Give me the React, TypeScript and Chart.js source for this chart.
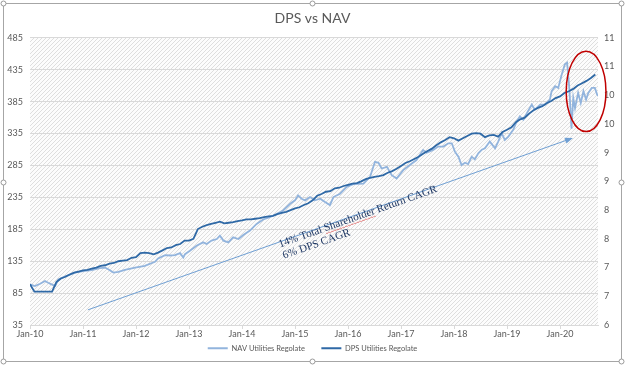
import React, { useEffect, useRef } from 'react';
import { Chart, registerables } from 'chart.js';

Chart.register(...registerables);

// X axis: months since Jan-2010
const tickMonths = [0, 12, 24, 36, 48, 60, 72, 84, 96, 108, 120];
const tickLabels = ['Jan-10', 'Jan-11', 'Jan-12', 'Jan-13', 'Jan-14', 'Jan-15', 'Jan-16', 'Jan-17', 'Jan-18', 'Jan-19', 'Jan-20'];

// DPS Utilities Regolate (right axis), monthly from Jan-10
const dpsValues = [
  6.71, 6.58, 6.58, 6.58, 6.58, 6.58, 6.75, 6.81, 6.84, 6.88, 6.91, 6.93,
  6.95, 6.96, 6.98, 7.00, 7.03, 7.04, 7.07, 7.08, 7.11, 7.12, 7.13, 7.17,
  7.18, 7.25, 7.26, 7.25, 7.23, 7.26, 7.30, 7.34, 7.35, 7.39, 7.41, 7.47,
  7.47, 7.50, 7.67, 7.71, 7.74, 7.76, 7.78, 7.80, 7.77, 7.78, 7.79, 7.81,
  7.82, 7.84, 7.84, 7.85, 7.86, 7.88, 7.89, 7.90, 7.93, 7.95, 7.97, 8.00,
  8.03, 8.05, 8.09, 8.12, 8.17, 8.25, 8.28, 8.32, 8.33, 8.38, 8.39, 8.42,
  8.44, 8.46, 8.47, 8.50, 8.54, 8.56, 8.58, 8.59, 8.61, 8.65, 8.68, 8.72,
  8.77, 8.82, 8.85, 8.89, 8.93, 8.98, 9.03, 9.07, 9.13, 9.18, 9.22, 9.27,
  9.25, 9.21, 9.25, 9.29, 9.33, 9.34, 9.33, 9.27, 9.30, 9.31, 9.28, 9.36,
  9.40, 9.44, 9.53, 9.58, 9.61, 9.68, 9.74, 9.78, 9.81, 9.86, 9.90, 9.95,
  9.98, 10.04, 10.07, 10.11, 10.17, 10.21, 10.25, 10.30, 10.36,
];

// NAV Utilities Regolate (left axis), observation month + value
const navMonths = [
  0, 1.1, 2.3, 3.4, 4.1, 4.9, 5.7, 6.4, 7.9, 10.2,
  12.0, 14.0, 15.8, 17.0, 17.7, 18.9, 20.0, 21.5, 23.8, 26.0,
  28.3, 29.0, 30.6, 31.7, 32.8, 34.0, 34.7, 35.1, 36.2, 37.7,
  39.2, 40.0, 41.1, 42.3, 43.0, 43.8, 44.9, 46.0, 47.2, 48.3,
  49.8, 51.3, 52.8, 54.3, 55.9, 57.3, 58.9, 60.0, 60.7, 61.5,
  62.3, 63.4, 64.5, 65.7, 66.8, 67.9, 68.7, 70.2, 71.7, 73.2,
  75.5, 77.0, 78.1, 78.9, 79.6, 80.8, 81.9, 83.0, 84.5, 86.0,
  87.5, 89.0, 89.8, 91.3, 92.4, 93.6, 94.7, 95.5, 96.2, 97.0,
  97.7, 98.5, 99.2, 100.0, 100.7, 101.5, 102.3, 103.0, 104.1, 105.3,
  106.0, 106.8, 107.5, 108.3, 109.4, 110.2, 110.9, 111.7, 112.5, 113.6,
  114.3, 115.5, 116.6, 117.7, 118.1, 118.9, 119.6, 120.4, 121.1, 121.6,
  122.1, 122.6, 123.0, 123.4, 124.1, 124.7, 125.3, 125.9, 126.4, 127.2,
  127.9, 128.4, 128.8,
];
const navValues = [
  98.6, 96.1, 99.7, 104.0, 101.3, 98.6, 96.1, 106.5, 110.8, 117.1,
  119.5, 121.1, 124.2, 125.0, 122.3, 117.1, 118.2, 121.4, 125.0, 127.7,
  134.0, 139.2, 144.4, 143.9, 144.4, 147.6, 140.8, 146.0, 151.4, 159.3,
  164.5, 161.8, 167.2, 169.7, 175.0, 167.2, 164.5, 172.4, 169.7, 176.0,
  182.9, 193.4, 200.3, 203.9, 209.2, 214.5, 224.9, 230.3, 238.2, 232.8,
  230.3, 235.5, 230.3, 232.8, 227.6, 222.9, 235.5, 240.7, 251.3, 255.6,
  256.5, 267.1, 290.8, 289.2, 280.2, 282.9, 269.8, 264.4, 277.7, 285.6,
  293.5, 309.3, 305.0, 309.3, 314.5, 314.5, 319.7, 319.7, 306.6, 298.7,
  285.6, 289.2, 287.2, 298.7, 294.4, 303.9, 309.7, 311.8, 322.4, 311.8,
  322.4, 335.5, 325.0, 330.3, 340.8, 353.9, 361.8, 356.6, 367.0, 380.3,
  372.4, 380.3, 380.3, 388.2, 401.3, 409.2, 406.5, 427.7, 443.5, 446.0,
  406.5, 342.4, 390.7, 374.9, 398.6, 382.8, 401.3, 388.2, 398.6, 406.5,
  406.5, 396.1, 393.4,
];

const leftAxis = { min: 35, max: 485, step: 50 };
const rightAxis = { min: 6, max: 11, step: 0.5 };
const xMax = 128.6;

// Annotations (data coordinates: month, left-axis value)
const arrowFrom = [13.1, 58.7];
const arrowTo = [122.5, 327];
const noteAnchor = [56.6, 156.6];
const noteLines = ['14% Total Shareholder Return CAGR', '6% DPS CAGR'];
const ellipseCenter = [125.9, 401];
const ellipseRadius = [4.5, 63];

const NAV_COLOR = '#92b4dd';
const DPS_COLOR = '#2f69a6';
const TEXT_COLOR = '#595959';
const FONT = 'Lato';

export default function App() {
  const ref = useRef<HTMLCanvasElement>(null);

  useEffect(() => {
    document.body.style.margin = '0';
    const canvas = ref.current!;

    const pc = document.createElement('canvas');
    pc.width = 4;
    pc.height = 4;
    const g = pc.getContext('2d')!;
    g.fillStyle = '#fcfcfc';
    g.fillRect(0, 0, 4, 4);
    g.strokeStyle = '#dedede';
    g.lineWidth = 1;
    g.beginPath();
    g.moveTo(0, 4);
    g.lineTo(4, 0);
    g.stroke();
    const pattern = canvas.getContext('2d')!.createPattern(pc, 'repeat')!;

    const bgPlugin = {
      id: 'bg',
      beforeDraw(chart: any) {
        const { ctx, chartArea: a } = chart;
        ctx.save();
        ctx.fillStyle = '#ffffff';
        ctx.fillRect(0, 0, chart.width, chart.height);
        ctx.fillStyle = pattern;
        ctx.fillRect(a.left, a.top, a.right - a.left, a.bottom - a.top);
        ctx.restore();
      },
    };

    const notePlugin = {
      id: 'notes',
      afterDraw(chart: any) {
        const { ctx } = chart;
        const x = chart.scales.x;
        const y = chart.scales.y;
        const px = (p: number[]) => [x.getPixelForValue(p[0]), y.getPixelForValue(p[1])];
        ctx.save();
        // arrow
        const [x0, y0] = px(arrowFrom);
        const [x1, y1] = px(arrowTo);
        const ang = Math.atan2(y1 - y0, x1 - x0);
        ctx.strokeStyle = '#6f9fd3';
        ctx.fillStyle = '#6f9fd3';
        ctx.lineWidth = 1;
        ctx.beginPath();
        ctx.moveTo(x0, y0);
        ctx.lineTo(x1, y1);
        ctx.stroke();
        ctx.beginPath();
        ctx.moveTo(x1 + 2 * Math.cos(ang), y1 + 2 * Math.sin(ang));
        ctx.lineTo(x1 - 6 * Math.cos(ang) - 3 * Math.sin(ang), y1 - 6 * Math.sin(ang) + 3 * Math.cos(ang));
        ctx.lineTo(x1 - 6 * Math.cos(ang) + 3 * Math.sin(ang), y1 - 6 * Math.sin(ang) - 3 * Math.cos(ang));
        ctx.closePath();
        ctx.fill();
        // text
        const [tx, ty] = px(noteAnchor);
        ctx.translate(tx, ty);
        ctx.rotate(ang);
        ctx.font = '11px "Liberation Serif"';
        ctx.fillStyle = '#1f3864';
        ctx.textBaseline = 'alphabetic';
        ctx.textAlign = 'left';
        ctx.fillText(noteLines[0], 0, 0);
        ctx.fillText(noteLines[1], 0, 12);
        // spell-check squiggle under "Shareholder"
        const sx = ctx.measureText('14% Total ').width;
        const sw = ctx.measureText('Shareholder').width;
        ctx.strokeStyle = 'rgba(220,50,50,0.8)';
        ctx.lineWidth = 0.6;
        ctx.beginPath();
        for (let i = 0; i <= sw; i += 1.5) {
          const yy = 2 + (Math.round(i / 1.5) % 2 === 0 ? 0 : 0.8);
          if (i === 0) ctx.moveTo(sx + i, yy);
          else ctx.lineTo(sx + i, yy);
        }
        ctx.stroke();
        ctx.setTransform(1, 0, 0, 1, 0, 0);
        // red ellipse
        const [ecx, ecy] = px(ellipseCenter);
        const erx = Math.abs(x.getPixelForValue(ellipseCenter[0] + ellipseRadius[0]) - ecx);
        const ery = Math.abs(y.getPixelForValue(ellipseCenter[1] + ellipseRadius[1]) - ecy);
        ctx.strokeStyle = '#c00000';
        ctx.lineWidth = 1.5;
        ctx.beginPath();
        ctx.ellipse(ecx, ecy, erx, ery, 0, 0, Math.PI * 2);
        ctx.stroke();
        // chart frame with handles
        ctx.strokeStyle = '#a6a6a6';
        ctx.lineWidth = 1;
        ctx.strokeRect(3.5, 3.5, chart.width - 7, chart.height - 7);
        const W = chart.width - 7;
        const H = chart.height - 7;
        const hs = [[0, 0], [0.5, 0], [1, 0], [0, 0.5], [1, 0.5], [0, 1], [0.5, 1], [1, 1]];
        hs.forEach(([u, v]) => {
          ctx.beginPath();
          ctx.arc(3.5 + u * W, 3.5 + v * H, 2.5, 0, Math.PI * 2);
          ctx.fillStyle = '#ffffff';
          ctx.fill();
          ctx.strokeStyle = '#9a9a9a';
          ctx.stroke();
        });
        ctx.restore();
      },
    };

    const chart = new Chart(canvas, {
      type: 'line',
      data: {
        datasets: [
          {
            label: 'NAV Utilities Regolate',
            data: navMonths.map((m, i) => ({ x: m, y: navValues[i] })),
            borderColor: NAV_COLOR,
            backgroundColor: NAV_COLOR,
            borderWidth: 1.8,
            pointRadius: 0,
            tension: 0,
            yAxisID: 'y',
            order: 1,
          },
          {
            label: 'DPS Utilities Regolate',
            data: dpsValues.map((v, i) => ({ x: i, y: v })),
            borderColor: DPS_COLOR,
            backgroundColor: DPS_COLOR,
            borderWidth: 1.8,
            pointRadius: 0,
            tension: 0,
            yAxisID: 'y1',
            order: 0,
          },
        ],
      },
      options: {
        responsive: false,
        animation: false,
        events: [],
        layout: { padding: { top: 0, left: 0, right: 0, bottom: 3 } },
        plugins: {
          title: {
            display: true,
            text: 'DPS vs NAV',
            color: TEXT_COLOR,
            font: { family: FONT, size: 14, weight: 'normal' },
            padding: { top: 10, bottom: 11 },
          },
          legend: {
            position: 'bottom',
            labels: {
              usePointStyle: true,
              pointStyle: 'line',
              pointStyleWidth: 20,
              color: TEXT_COLOR,
              font: { family: FONT, size: 7.5 },
              padding: 5,
              generateLabels: (c: any) => {
                const items = (Chart as any).defaults.plugins.legend.labels.generateLabels(c);
                items.sort((a: any, b: any) => a.datasetIndex - b.datasetIndex);
                if (items[0]) items[0].text = items[0].text + '      ';
                return items;
              },
            },
          },
          tooltip: { enabled: false },
        },
        scales: {
          x: {
            type: 'linear',
            min: 0,
            max: xMax,
            afterBuildTicks: (s: any) => {
              s.ticks = tickMonths.map((v) => ({ value: v }));
            },
            afterFit: (s: any) => {
              s.height = 14.5;
            },
            ticks: {
              color: TEXT_COLOR,
              font: { family: FONT, size: 9 },
              padding: 0,
              maxRotation: 0,
              autoSkip: false,
              callback: (v: any) => tickLabels[tickMonths.indexOf(Number(v))] ?? '',
            },
            grid: { drawOnChartArea: false, drawTicks: true, tickLength: 4, color: '#d9d9d9' },
            border: { color: '#d9d9d9' },
          },
          y: {
            position: 'left',
            min: leftAxis.min,
            max: leftAxis.max,
            afterFit: (s: any) => {
              s.width = 30;
            },
            ticks: {
              stepSize: leftAxis.step,
              color: TEXT_COLOR,
              font: { family: FONT, size: 9 },
              padding: 7,
            },
            grid: { color: '#d9d9d9', drawTicks: false },
            border: { display: false },
          },
          y1: {
            position: 'right',
            min: rightAxis.min,
            max: rightAxis.max,
            afterFit: (s: any) => {
              s.width = 27;
            },
            ticks: {
              stepSize: rightAxis.step,
              color: TEXT_COLOR,
              font: { family: FONT, size: 9 },
              padding: 6,
              callback: (v: any) => String(Math.round(Number(v))),
            },
            grid: { drawOnChartArea: false, drawTicks: false },
            border: { display: false },
          },
        },
      },
      plugins: [bgPlugin, notePlugin],
    } as any);

    return () => chart.destroy();
  }, []);

  return (
    <div style={{ width: 625, height: 365, position: 'relative' }}>
      <canvas ref={ref} width={625} height={365} style={{ display: 'block' }} />
    </div>
  );
}
